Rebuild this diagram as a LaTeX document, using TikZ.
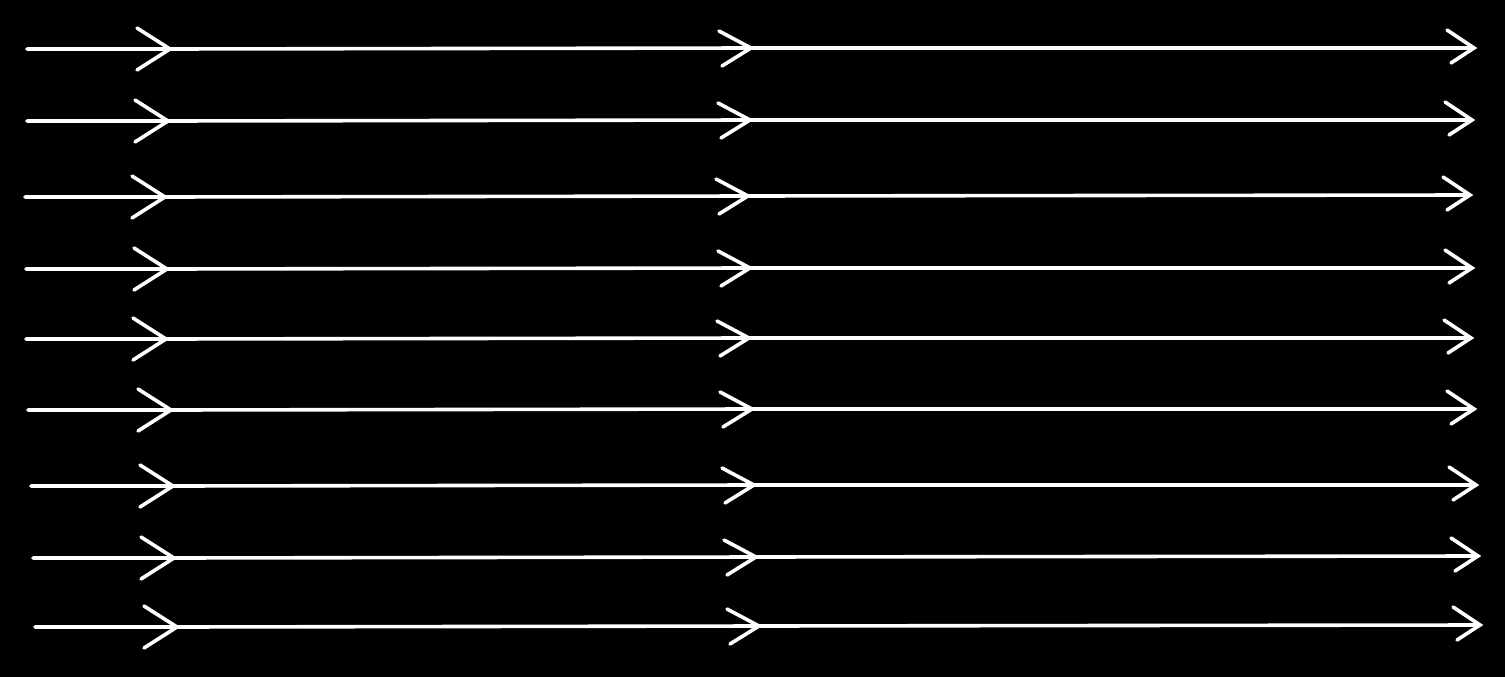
\documentclass[tikz,border=0pt]{standalone}
\usetikzlibrary{calc}
\begin{document}
\begin{tikzpicture}[x=1pt,y=-1pt,
  ray/.style={draw=white,line width=3.6pt,line cap=round},
  chevA/.style={draw=white,line width=3.6pt,line cap=round,line join=miter}]
\fill[black] (0,0) rectangle (1505,677);
\useasboundingbox (0,0) rectangle (1505,677);
\foreach \i/\sx/\y/\ax/\bx/\by/\ex/\ey in {
  1/27/49/170/751/48/1474/48,
  2/27/121/168/750/120/1472/120,
  3/25/197/165/748/196/1470/195,
  4/26/269/167/750/268/1472/268,
  5/26/339/166/749/338/1471/338,
  6/28/410/171/752/409/1474/409,
  7/31/486/173/754/485/1476/485,
  8/33/558/174/756/557/1478/556,
  9/35/627/177/759/626/1480/625}{
  \coordinate (s\i) at (\sx,\y);
  \coordinate (a\i) at (\ax,\y);
  \coordinate (b\i) at (\bx,\by);
  \coordinate (e\i) at (\ex,\ey);
  \draw[ray] (s\i) -- (a\i) -- (b\i) -- (e\i);
  \draw[chevA] ($(a\i)+(-33,-21)$) -- (a\i) -- ($(a\i)+(-33,21)$);
  \draw[chevA] ($(b\i)+(-32,-17)$) -- (b\i) -- ($(b\i)+(-29,18)$);
  \draw[chevA] ($(e\i)+(-27,-18)$) -- (e\i) -- ($(e\i)+(-23,15)$);
}
\end{tikzpicture}
\end{document}
